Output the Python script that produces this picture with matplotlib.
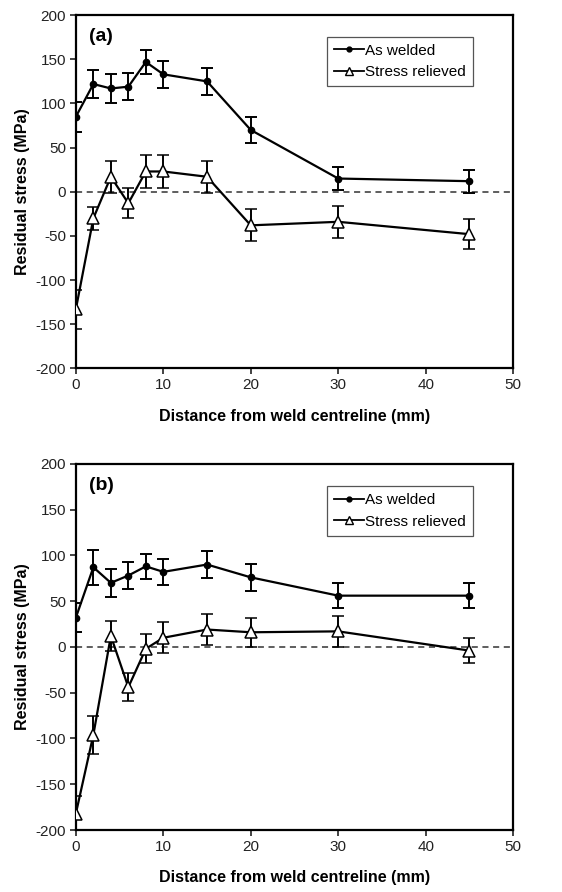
import matplotlib.pyplot as plt
from matplotlib.lines import Line2D

plt.rcParams['font.family'] = ['Liberation Sans', 'DejaVu Sans']
plt.rcParams['axes.unicode_minus'] = False

distance = [0, 2, 4, 6, 8, 10, 15, 20, 30, 45]

# panel (a)
welded_a = [85, 122, 117, 119, 147, 133, 125, 70, 15, 12]
welded_a_err = [17, 16, 16, 15, 14, 15, 15, 15, 13, 13]
relieved_a = [-133, -30, 17, -13, 23, 23, 17, -38, -34, -48]
relieved_a_err = [22, 13, 18, 17, 19, 19, 18, 18, 18, 17]

# panel (b)
welded_b = [32, 87, 70, 78, 88, 82, 90, 76, 56, 56]
welded_b_err = [16, 19, 15, 15, 14, 14, 15, 15, 14, 14]
relieved_b = [-182, -96, 12, -44, -2, 10, 19, 16, 17, -4]
relieved_b_err = [19, 21, 16, 15, 16, 17, 17, 16, 17, 14]

x_ticks = [0, 10, 20, 30, 40, 50]
y_ticks = [-200, -150, -100, -50, 0, 50, 100, 150, 200]


def draw_panel(ax, tag, welded, welded_err, relieved, relieved_err):
    ax.axhline(0, color='#333333', lw=1.1, ls=(0, (4, 3)), zorder=1)
    ax.errorbar(distance, welded, yerr=welded_err, color='black', lw=1.6,
                marker='o', ms=4.5, mfc='black', mec='black',
                elinewidth=1.4, capsize=4, capthick=1.4, zorder=3)
    ax.errorbar(distance, relieved, yerr=relieved_err, color='black', lw=1.6,
                marker='^', ms=8, mfc='white', mec='black', mew=1.1,
                elinewidth=1.4, capsize=4, capthick=1.4, zorder=3)
    ax.set_xlim(0, 50)
    ax.set_ylim(-200, 200)
    ax.set_xticks(x_ticks)
    ax.set_yticks(y_ticks)
    ax.tick_params(labelsize=11, length=4, width=1.2, direction='out',
                   pad=3, colors='#222222')
    for s in ax.spines.values():
        s.set_linewidth(1.6)
    ax.set_xlabel('Distance from weld centreline (mm)', fontsize=11.5,
                  fontweight='bold', labelpad=12)
    ax.set_ylabel('Residual stress (MPa)', fontsize=11.5, fontweight='bold',
                  labelpad=4)
    ax.text(0.03, 0.94, tag, transform=ax.transAxes, fontsize=14,
            fontweight='bold', va='center', ha='left')
    handles = [
        Line2D([], [], color='black', lw=1.3, marker='o', ms=3.5),
        Line2D([], [], color='black', lw=1.3, marker='^', ms=6,
               mfc='white', mew=1.0),
    ]
    leg = ax.legend(handles, ['As welded', 'Stress relieved'],
                    loc='upper right', bbox_to_anchor=(0.925, 0.96),
                    fontsize=11, handlelength=2.0, handletextpad=0.05,
                    borderpad=0.45, labelspacing=0.5, fancybox=False,
                    framealpha=1, edgecolor='#555555')
    leg.get_frame().set_linewidth(0.9)


fig = plt.figure(figsize=(5.62, 8.92), dpi=100)
ax_a = fig.add_axes([0.135, 0.587, 0.778, 0.396])
ax_b = fig.add_axes([0.135, 0.0695, 0.778, 0.4105])

draw_panel(ax_a, '(a)', welded_a, welded_a_err, relieved_a, relieved_a_err)
draw_panel(ax_b, '(b)', welded_b, welded_b_err, relieved_b, relieved_b_err)

fig.savefig('out.png', dpi=100)
